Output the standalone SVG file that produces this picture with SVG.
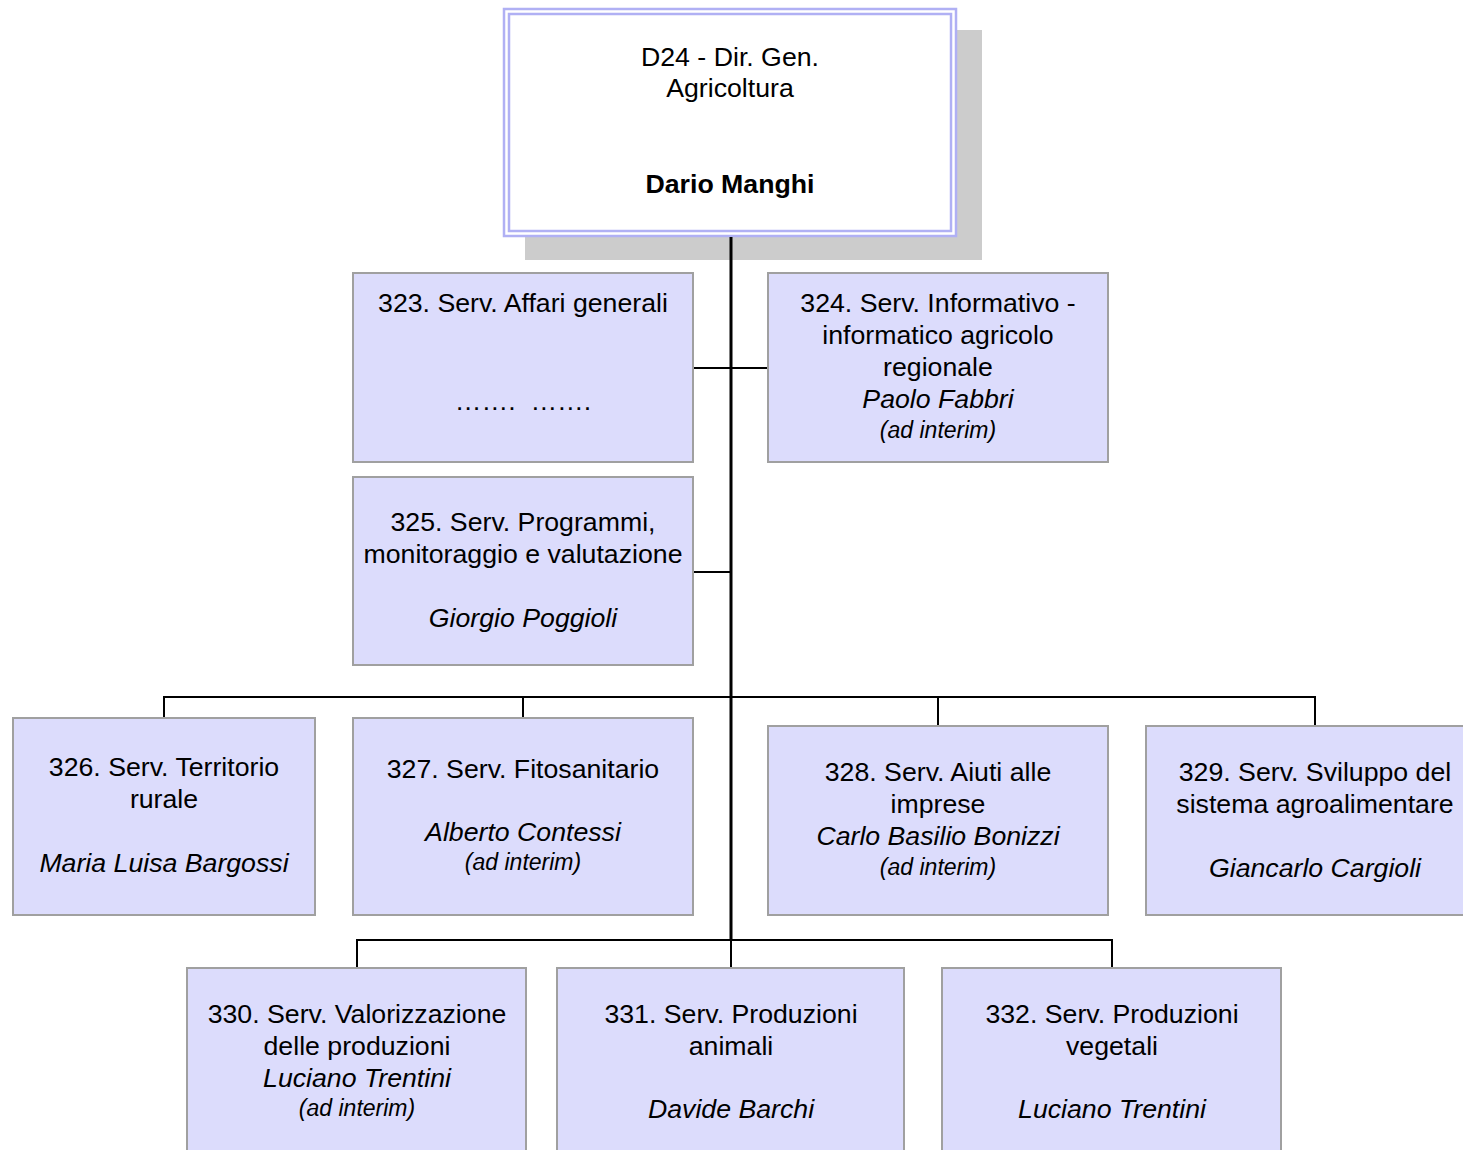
<svg xmlns="http://www.w3.org/2000/svg" width="1463" height="1150" viewBox="0 0 1463 1150">
<style>
.box{fill:#dcdcfc;stroke:#a0a0a0;stroke-width:2}
text{font-family:"Liberation Sans",Arial,sans-serif;font-size:26.7px;fill:#000;text-anchor:middle}
.it{font-style:italic}
.sm{font-style:italic;font-size:23px}
.b{font-weight:bold}
.ln{stroke:#000;stroke-width:2;fill:none}
.tr{stroke:#000;stroke-width:3;fill:none}
</style>
<rect width="1463" height="1150" fill="#fff"/>
<g id="n-d24">
<rect x="525" y="30" width="457" height="230" fill="#cccccc"/>
<rect x="504" y="9" width="452" height="227" fill="#fff" stroke="#b0b0f4" stroke-width="2.5"/>
<rect x="509" y="14" width="442" height="217" fill="none" stroke="#b0b0f4" stroke-width="2.5"/>
<text x="730" y="66">D24 - Dir. Gen.</text>
<text x="730" y="97">Agricoltura</text>
<text x="730" y="193" class="b">Dario Manghi</text>
</g>
<g id="connectors">
<line class="tr" x1="731" y1="237" x2="731" y2="940"/>
<line class="ln" x1="693" y1="368" x2="768" y2="368"/>
<line class="ln" x1="693" y1="572" x2="731" y2="572"/>
<polyline class="ln" points="164,718 164,697 1315,697 1315,726"/>
<line class="ln" x1="523" y1="697" x2="523" y2="718"/>
<line class="ln" x1="938" y1="697" x2="938" y2="726"/>
<polyline class="ln" points="357,968 357,940 1112,940 1112,968"/>
<line class="ln" x1="731" y1="940" x2="731" y2="968"/>
</g>
<g id="n-323">
<rect class="box" x="353" y="273" width="340" height="189"/>
<text x="523" y="312">323. Serv. Affari generali</text>
<text x="523" y="410" xml:space="preserve">…….  …….</text>
</g>
<g id="n-324">
<rect class="box" x="768" y="273" width="340" height="189"/>
<text x="938" y="312">324. Serv. Informativo -</text>
<text x="938" y="344">informatico agricolo</text>
<text x="938" y="376">regionale</text>
<text x="938" y="408" class="it">Paolo Fabbri</text>
<text x="938" y="438" class="sm">(ad interim)</text>
</g>
<g id="n-325">
<rect class="box" x="353" y="477" width="340" height="188"/>
<text x="523" y="531">325. Serv. Programmi,</text>
<text x="523" y="563">monitoraggio e valutazione</text>
<text x="523" y="627" class="it">Giorgio Poggioli</text>
</g>
<g id="n-326">
<rect class="box" x="13" y="718" width="302" height="197"/>
<text x="164" y="776">326. Serv. Territorio</text>
<text x="164" y="808">rurale</text>
<text x="164" y="872" class="it">Maria Luisa Bargossi</text>
</g>
<g id="n-327">
<rect class="box" x="353" y="718" width="340" height="197"/>
<text x="523" y="778">327. Serv. Fitosanitario</text>
<text x="523" y="841" class="it">Alberto Contessi</text>
<text x="523" y="870" class="sm">(ad interim)</text>
</g>
<g id="n-328">
<rect class="box" x="768" y="726" width="340" height="189"/>
<text x="938" y="781">328. Serv. Aiuti alle</text>
<text x="938" y="813">imprese</text>
<text x="938" y="845" class="it">Carlo Basilio Bonizzi</text>
<text x="938" y="875" class="sm">(ad interim)</text>
</g>
<g id="n-329">
<rect class="box" x="1146" y="726" width="330" height="189"/>
<text x="1315" y="781">329. Serv. Sviluppo del</text>
<text x="1315" y="813">sistema agroalimentare</text>
<text x="1315" y="877" class="it">Giancarlo Cargioli</text>
</g>
<g id="n-330">
<rect class="box" x="187" y="968" width="339" height="200"/>
<text x="357" y="1023">330. Serv. Valorizzazione</text>
<text x="357" y="1055">delle produzioni</text>
<text x="357" y="1087" class="it">Luciano Trentini</text>
<text x="357" y="1116" class="sm">(ad interim)</text>
</g>
<g id="n-331">
<rect class="box" x="557" y="968" width="347" height="200"/>
<text x="731" y="1023">331. Serv. Produzioni</text>
<text x="731" y="1055">animali</text>
<text x="731" y="1118" class="it">Davide Barchi</text>
</g>
<g id="n-332">
<rect class="box" x="942" y="968" width="339" height="200"/>
<text x="1112" y="1023">332. Serv. Produzioni</text>
<text x="1112" y="1055">vegetali</text>
<text x="1112" y="1118" class="it">Luciano Trentini</text>
</g>
</svg>
